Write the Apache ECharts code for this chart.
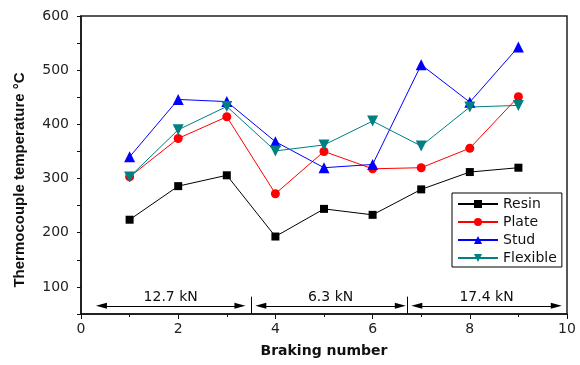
<!DOCTYPE html>
<html>
<head>
<meta charset="utf-8">
<script src="https://cdn.jsdelivr.net/npm/echarts@6/dist/echarts.min.js"></script>
<style>
  html, body { margin: 0; padding: 0; background: #fff; }
  #chart { width: 580px; height: 365px; }
</style>
</head>
<body>
<div id="chart"></div>
<script>
// braking number 1..9
var braking = [1, 2, 3, 4, 5, 6, 7, 8, 9];
var resin    = [224, 286, 306, 193, 244, 233, 280, 312, 320];
var plate    = [303, 374, 414, 272, 350, 318, 320, 356, 451];
var stud     = [340, 446, 442, 368, 320, 326, 510, 441, 543];
var flexible = [303, 390, 433, 351, 362, 406, 360, 432, 435];

// load ranges shown under the curves
var loadLabels = ['12.7 kN', '6.3 kN', '17.4 kN'];
var loadRanges = [[0.42, 3.27], [3.70, 6.57], [6.91, 9.78]];
var loadSeparators = [3.51, 6.71];
var loadArrowY = 65;

function pairs(ys) {
    return braking.map(function (x, i) { return [x, ys[i]]; });
}

var tickFont = { fontFamily: 'DejaVu Sans', fontSize: 14, color: '#222' };

function mkSeries(name, ys, color, symbol, size, rotate) {
    return {
        name: name,
        type: 'line',
        data: pairs(ys),
        symbol: symbol,
        symbolSize: size,
        symbolRotate: rotate || 0,
        lineStyle: { color: color, width: 1 },
        itemStyle: { color: color },
        animation: false
    };
}

var markData = [];
loadRanges.forEach(function (r, i) {
    markData.push([
        { coord: [r[0], loadArrowY], label: { show: true, formatter: loadLabels[i] } },
        { coord: [r[1], loadArrowY] }
    ]);
});
loadSeparators.forEach(function (x) {
    markData.push([
        { coord: [x, 50], symbol: 'none', label: { show: false } },
        { coord: [x, 82], symbol: 'none' }
    ]);
});

var myChart = echarts.init(document.getElementById('chart'));
var option = {
    backgroundColor: '#fff',
    animation: false,
    grid: {
        left: 81, right: 13, top: 16, bottom: 51,
        show: true, borderColor: '#222', borderWidth: 1.5
    },
    legend: {
        orient: 'vertical',
        left: 452, top: 193,
        data: ['Resin', 'Plate', 'Stud', 'Flexible'],
        itemWidth: 40, itemHeight: 10, itemGap: 4,
        padding: [4, 5, 2, 5],
        borderColor: '#000', borderWidth: 1,
        textStyle: { fontFamily: 'DejaVu Sans', fontSize: 14, lineHeight: 14, color: '#111' }
    },
    xAxis: {
        type: 'value',
        min: 0, max: 10, interval: 2,
        name: 'Braking number',
        nameLocation: 'middle',
        nameGap: 30,
        nameTextStyle: { fontFamily: 'DejaVu Sans', fontWeight: 'bold', fontSize: 14, color: '#111' },
        axisLine: { lineStyle: { color: '#111', width: 1.5 } },
        axisTick: { inside: false, length: 5, lineStyle: { color: '#111' } },
        minorTick: { show: true, splitNumber: 2, length: 3, lineStyle: { color: '#111' } },
        axisLabel: Object.assign({ margin: 8 }, tickFont),
        splitLine: { show: false }
    },
    yAxis: {
        type: 'value',
        min: 50, max: 600, interval: 50,
        name: 'Thermocouple temperature \u00b0C',
        nameLocation: 'middle',
        nameGap: 54,
        nameTextStyle: {
            fontFamily: 'Liberation Sans', fontWeight: 'bold', fontSize: 15, color: '#111',
            padding: [0, 30, 0, 0]
        },
        axisLine: { lineStyle: { color: '#111', width: 1.5 } },
        axisTick: { inside: false, length: 4, lineStyle: { color: '#111' } },
        axisLabel: Object.assign({
            margin: 12,
            formatter: function (v) { return v % 100 === 0 ? String(v) : ''; }
        }, tickFont),
        splitLine: { show: false }
    },
    series: [
        mkSeries('Resin', resin, '#000000', 'rect', 8),
        mkSeries('Plate', plate, '#ff0000', 'circle', 9),
        mkSeries('Stud', stud, '#0000ff', 'triangle', 11),
        mkSeries('Flexible', flexible, '#008080', 'triangle', 11, 180),
        {
            name: 'loads',
            type: 'line',
            data: [],
            animation: false,
            markLine: {
                silent: true,
                animation: false,
                symbol: ['triangle', 'triangle'],
                symbolSize: [6, 11],
                lineStyle: { color: '#000', width: 1, type: 'solid' },
                label: {
                    show: false,
                    position: 'insideMiddleTop',
                    distance: 2,
                    fontFamily: 'DejaVu Sans', fontSize: 14, color: '#111'
                },
                emphasis: { disabled: true },
                data: markData
            }
        }
    ]
};
myChart.setOption(option);
</script>
</body>
</html>
